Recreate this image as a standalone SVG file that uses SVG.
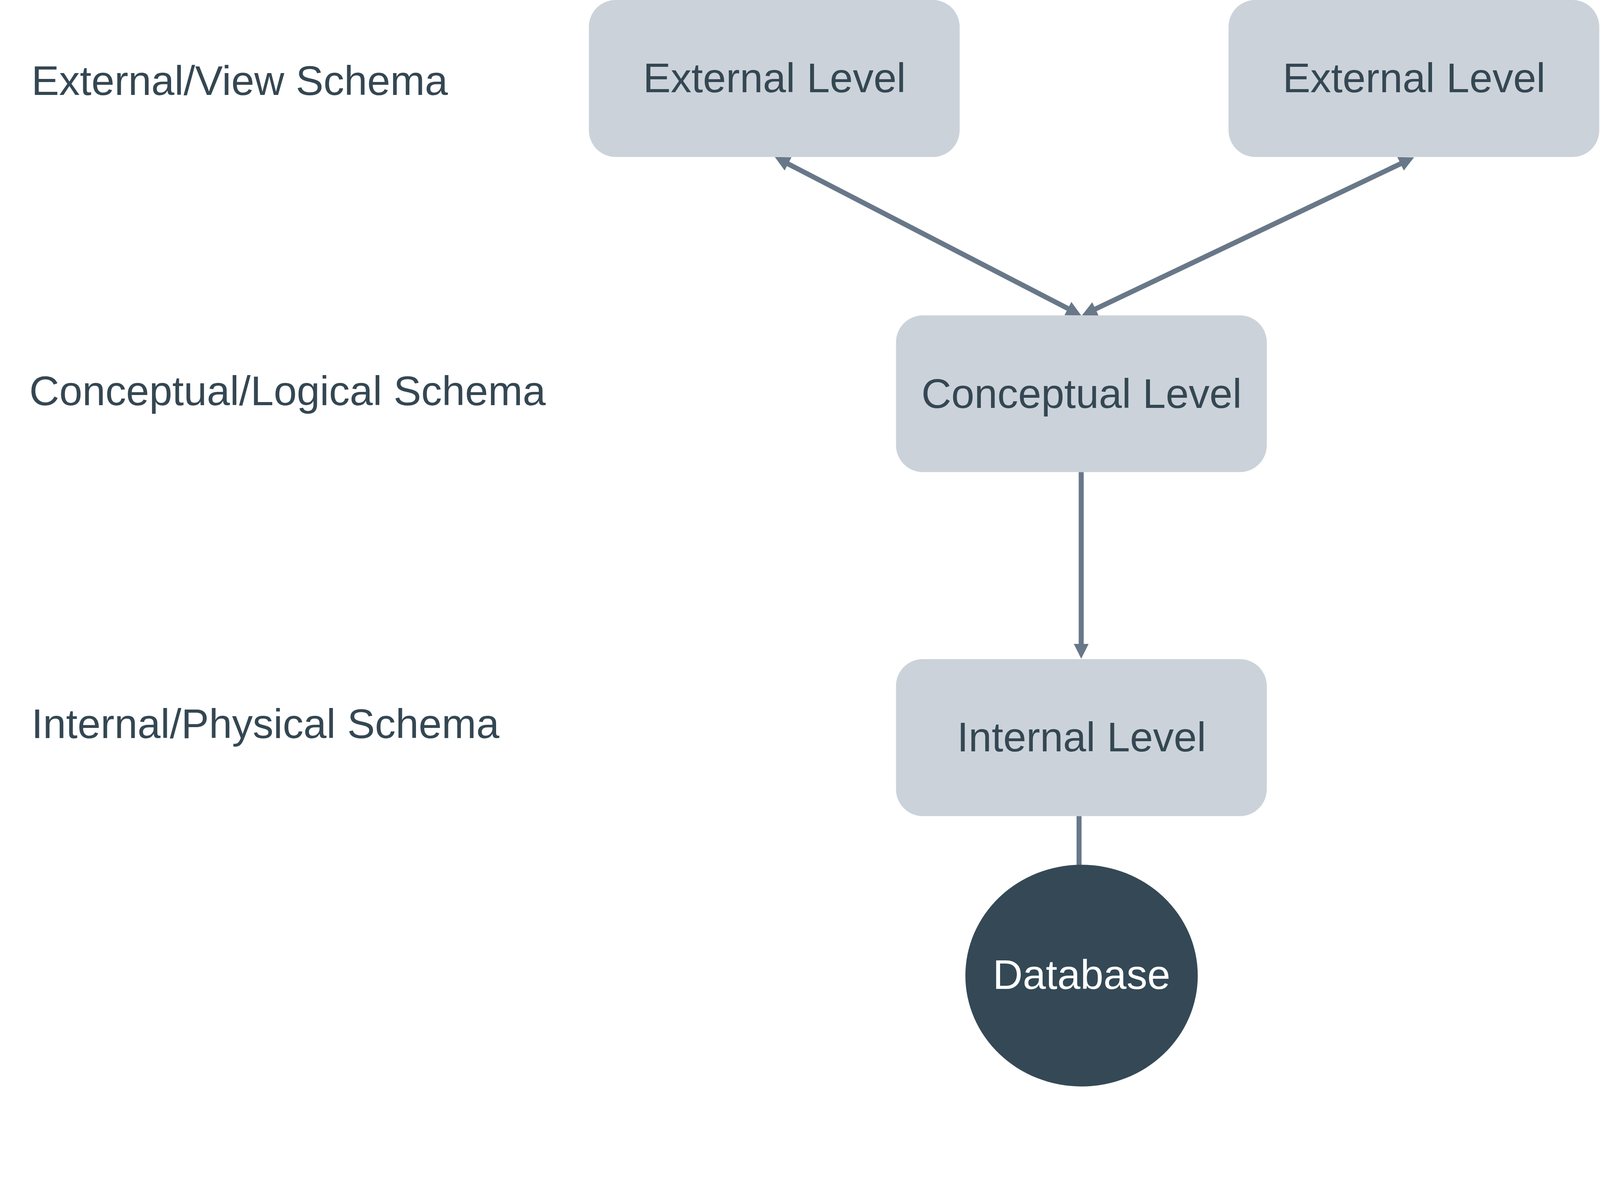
<svg xmlns="http://www.w3.org/2000/svg" width="4475" height="3038" viewBox="0 0 4475 3038" preserveAspectRatio="xMinYMin meet">
  <style>
    svg { width: 100vw; height: 100vh; display: block; }
    .box { fill: #cbd2da; }
    .lbl { font-family: "Liberation Sans", Arial, sans-serif; font-size: 116px; fill: #344752; }
    .ctr { text-anchor: middle; }
    .db { fill: #344955; }
    .dbt { font-family: "Liberation Sans", Arial, sans-serif; font-size: 116px; fill: #ffffff; text-anchor: middle; }
    .edge { stroke: #687889; stroke-width: 14; fill: none; }
  </style>
  <defs>
    <marker id="arrow" markerUnits="userSpaceOnUse" markerWidth="42" markerHeight="42" refX="12" refY="21" orient="auto-start-reverse" viewBox="0 0 42 42">
      <path d="M0,0 L42,21 L0,42 z" fill="#687889"/>
    </marker>
  </defs>
  <rect width="4475" height="3038" fill="#ffffff"/>

  <g id="schema-labels">
    <text class="lbl" x="88" y="265">External/View Schema</text>
    <text class="lbl" x="82" y="1133">Conceptual/Logical Schema</text>
    <text class="lbl" x="88" y="2064">Internal/Physical Schema</text>
  </g>

  <g id="connectors">
    <line class="edge" x1="2193.7" y1="452.8" x2="2997.4" y2="868.2" marker-start="url(#arrow)" marker-end="url(#arrow)"/>
    <line class="edge" x1="3927.9" y1="452.9" x2="3053.1" y2="869.1" marker-start="url(#arrow)" marker-end="url(#arrow)"/>
    <line class="edge" x1="3024" y1="1320" x2="3024" y2="1812" marker-end="url(#arrow)"/>
    <line class="edge" x1="3018" y1="2282" x2="3018" y2="2422"/>
  </g>

  <g id="external-level-1">
    <rect class="box" x="1647" y="0" width="1037" height="439" rx="75" ry="75"/>
    <text class="lbl ctr" x="2166" y="258">External Level</text>
  </g>

  <g id="external-level-2">
    <rect class="box" x="3436" y="0" width="1037" height="439" rx="75" ry="75"/>
    <text class="lbl ctr" x="3955" y="258">External Level</text>
  </g>

  <g id="conceptual-level">
    <rect class="box" x="2506" y="882" width="1037" height="438" rx="75" ry="75"/>
    <text class="lbl ctr" x="3025" y="1141">Conceptual Level</text>
  </g>

  <g id="internal-level">
    <rect class="box" x="2506" y="1843" width="1037" height="439" rx="75" ry="75"/>
    <text class="lbl ctr" x="3025" y="2101">Internal Level</text>
  </g>

  <g id="database">
    <ellipse class="db" cx="3025" cy="2728" rx="325" ry="310"/>
    <text class="dbt" x="3025" y="2765">Database</text>
  </g>
</svg>
